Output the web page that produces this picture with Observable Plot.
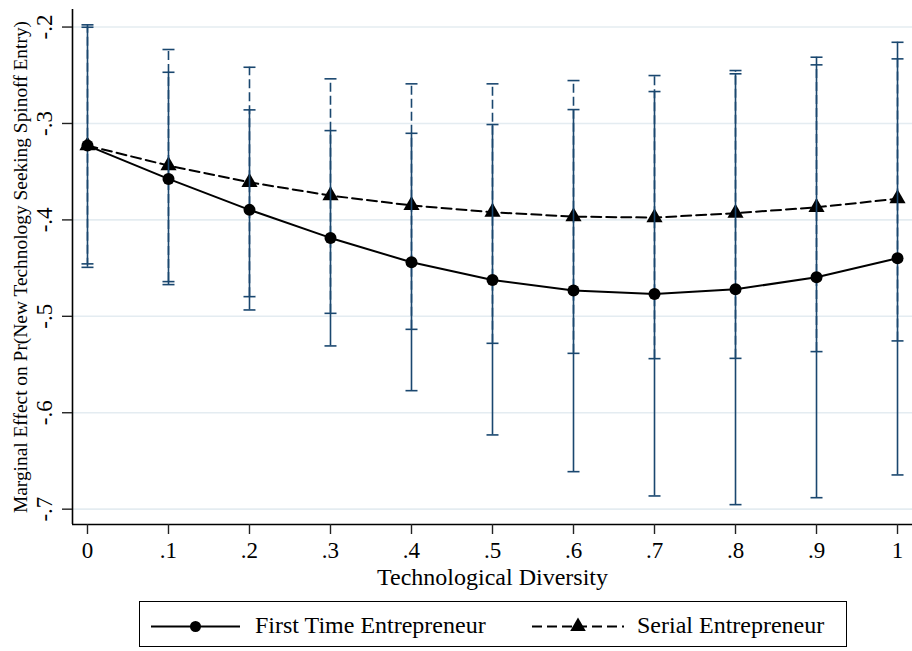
<!DOCTYPE html>
<html>
<head>
<meta charset="utf-8">
<script src="https://cdn.jsdelivr.net/npm/d3@7"></script>
<script src="https://cdn.jsdelivr.net/npm/@observablehq/plot@0.6"></script>
<style>
  html, body { margin: 0; padding: 0; background: #fff; }
  #wrap { width: 912px; font-family: "Liberation Serif", "Times New Roman", serif; }
  #legend { position: relative; box-sizing: border-box; margin-left: 139px; margin-top: 6px; width: 708px; height: 46px; border: 1px solid #000; }
  #legend .sw { position: absolute; top: 0; }
  #legend .lab { position: absolute; top: 9px; font-size: 24px; line-height: 28px; color: #000; white-space: nowrap; }
</style>
</head>
<body>
<div id="wrap">
  <div id="chart"></div>
  <div id="legend"></div>
</div>
<script>
// ---- data ----
const xs = [0, 0.1, 0.2, 0.3, 0.4, 0.5, 0.6, 0.7, 0.8, 0.9, 1];
const xTickLabels = ["0", ".1", ".2", ".3", ".4", ".5", ".6", ".7", ".8", ".9", "1"];
const yTicks = [-0.7, -0.6, -0.5, -0.4, -0.3, -0.2];
const yTickLabels = ["-.7", "-.6", "-.5", "-.4", "-.3", "-.2"];

const firstMean = [-0.3229, -0.3575, -0.3896, -0.4187, -0.4440, -0.4623, -0.4733, -0.4768, -0.4720, -0.4595, -0.4398];
const firstLo   = [-0.4456, -0.4671, -0.4934, -0.5307, -0.5771, -0.6230, -0.6611, -0.6863, -0.6953, -0.6881, -0.6645];
const firstHi   = [-0.2002, -0.2469, -0.2859, -0.3074, -0.3102, -0.3011, -0.2856, -0.2669, -0.2485, -0.2313, -0.2158];

const serialMean = [-0.3229, -0.3437, -0.3610, -0.3748, -0.3850, -0.3920, -0.3966, -0.3976, -0.3930, -0.3870, -0.3780];
const serialLo   = [-0.4492, -0.4640, -0.4796, -0.4969, -0.5135, -0.5280, -0.5384, -0.5439, -0.5436, -0.5366, -0.5255];
const serialHi   = [-0.1977, -0.2233, -0.2417, -0.2537, -0.2589, -0.2589, -0.2555, -0.2503, -0.2451, -0.2392, -0.2330];

const seriesNames = ["First Time Entrepreneur", "Serial Entrepreneur"];
const xLabel = "Technological Diversity";
const yLabel = "Marginal Effect on Pr(New Technology Seeking Spinoff Entry)";

// ---- build tables ----
const first = xs.map((x, i) => ({x, mean: firstMean[i], lo: firstLo[i], hi: firstHi[i]}));
const serial = xs.map((x, i) => ({x, mean: serialMean[i], lo: serialLo[i], hi: serialHi[i]}));

const CI = "#1a476f";
const capSymbol = { draw(ctx) { ctx.moveTo(-6, 0); ctx.lineTo(6, 0); } };
const font = "Liberation Serif, Times New Roman, serif";

const xDomain = [-0.0185, 1.0185];
const yDomain = [-0.7159, -0.1818];

const chart = Plot.plot({
  width: 912,
  height: 595,
  marginLeft: 72,
  marginRight: 0,
  marginTop: 9,
  marginBottom: 71,
  style: { fontFamily: font, background: "#fff", color: "#000" },
  x: { domain: xDomain },
  y: { domain: yDomain },
  marks: [
    Plot.gridY(yTicks, { stroke: "#e4ecf1", strokeOpacity: 1, strokeWidth: 1.6 }),
    // serial CI (dashed)
    Plot.ruleX(serial, { x: "x", y1: "lo", y2: "hi", stroke: CI, strokeWidth: 1.6, strokeDasharray: "9,4" }),
    Plot.dot(serial, { x: "x", y: "lo", symbol: capSymbol, stroke: CI, strokeWidth: 1.6, fill: "none" }),
    Plot.dot(serial, { x: "x", y: "hi", symbol: capSymbol, stroke: CI, strokeWidth: 1.6, fill: "none" }),
    // serial line + triangles
    Plot.line(serial, { x: "x", y: "mean", stroke: "#000", strokeWidth: 2, strokeDasharray: "10,5" }),
    Plot.dot(serial, { x: "x", y: "mean", symbol: "triangle", r: 6, fill: "#000", stroke: "none" }),
    // first-time CI (solid)
    Plot.ruleX(first, { x: "x", y1: "lo", y2: "hi", stroke: CI, strokeWidth: 1.6 }),
    Plot.dot(first, { x: "x", y: "lo", symbol: capSymbol, stroke: CI, strokeWidth: 1.6, fill: "none" }),
    Plot.dot(first, { x: "x", y: "hi", symbol: capSymbol, stroke: CI, strokeWidth: 1.6, fill: "none" }),
    // first-time line + circles
    Plot.line(first, { x: "x", y: "mean", stroke: "#000", strokeWidth: 2 }),
    Plot.dot(first, { x: "x", y: "mean", r: 6, fill: "#000", stroke: "none" }),
    // axes
    Plot.ruleX([xDomain[0]], { stroke: "#000", strokeWidth: 1.6 }),
    Plot.ruleY([yDomain[0]], { stroke: "#000", strokeWidth: 1.6 }),
    Plot.axisX(xs, { tickSize: 10, tickPadding: 7, tickFormat: (d, i) => xTickLabels[i], fontSize: 23, stroke: "#222", strokeWidth: 1.4, label: null }),
    Plot.axisY(yTicks, { tickSize: 10, tickFormat: () => "", stroke: "#222", strokeWidth: 1.4, label: null }),
    Plot.text(yTicks, { y: d => d, text: (d, i) => yTickLabels[i], frameAnchor: "left", dx: -28, rotate: -90, textAnchor: "middle", lineAnchor: "middle", fontSize: 23, fill: "#000" }),
    Plot.text([yLabel], { text: d => d, frameAnchor: "left", dx: -52, rotate: -90, textAnchor: "middle", lineAnchor: "middle", fontSize: 19.4, fill: "#000" }),
    Plot.text([xLabel], { text: d => d, frameAnchor: "bottom", dy: 53, textAnchor: "middle", lineAnchor: "middle", fontSize: 24, fill: "#000" })
  ]
});
document.getElementById("chart").appendChild(chart);

// ---- legend ----
const legend = document.getElementById("legend");
const ns = "http://www.w3.org/2000/svg";
function swatch(left, width, dashed, marker) {
  const svg = document.createElementNS(ns, "svg");
  svg.setAttribute("width", width);
  svg.setAttribute("height", 44);
  svg.setAttribute("class", "sw");
  svg.style.left = left + "px";
  const line = document.createElementNS(ns, "line");
  line.setAttribute("x1", 0); line.setAttribute("x2", width);
  line.setAttribute("y1", 24.5); line.setAttribute("y2", 24.5);
  line.setAttribute("stroke", "#000"); line.setAttribute("stroke-width", 2);
  if (dashed) line.setAttribute("stroke-dasharray", "10,5");
  svg.appendChild(line);
  const p = document.createElementNS(ns, "path");
  const sym = marker === "circle" ? d3.symbolCircle : d3.symbolTriangle;
  const size = marker === "circle" ? Math.PI * 5.5 * 5.5 : Math.PI * 5.8 * 5.8;
  p.setAttribute("d", d3.symbol(sym, size)());
  p.setAttribute("transform", `translate(${width / 2},24.5)`);
  p.setAttribute("fill", "#000");
  svg.appendChild(p);
  legend.appendChild(svg);
}
function label(left, text) {
  const s = document.createElement("span");
  s.className = "lab";
  s.style.left = left + "px";
  s.textContent = text;
  legend.appendChild(s);
}
swatch(10.5, 89, false, "circle");
label(115, seriesNames[0]);
swatch(391.5, 92, true, "triangle");
label(497, seriesNames[1]);
</script>
</body>
</html>
